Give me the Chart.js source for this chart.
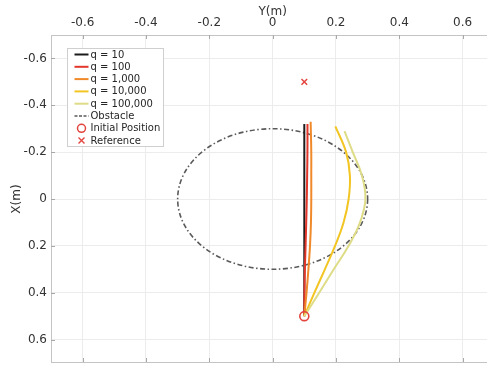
<!DOCTYPE html>
<html><head><meta charset="utf-8">
<script src="https://cdn.jsdelivr.net/npm/chart.js@4.4.0/dist/chart.umd.min.js"></script>
<style>
html,body{margin:0;padding:0;background:#fff;overflow:hidden;width:487px;height:365px}
#wrap{width:487px;height:365px;position:relative}
</style>
</head><body>
<div id="wrap"><canvas id="c" width="487" height="365"></canvas></div>
<script>
// Axis tick values (horizontal axis = Y(m), vertical axis = X(m), reversed)
const tickValues = [-0.6, -0.4, -0.2, 0, 0.2, 0.4, 0.6];
const xAxisMin = -0.7, xAxisMax = 0.677;   // right side of the plot is cut by the picture edge
const yAxisMin = -0.7, yAxisMax = 0.7;
const xAxisTitle = 'Y(m)';
const yAxisTitle = 'X(m)';

// Series labels
const seriesLabels = ['q = 10', 'q = 100', 'q = 1,000', 'q = 10,000', 'q = 100,000'];

// Trajectories: horizontal coordinate Y(m) and vertical coordinate X(m)
const q10Y     = [0.100, 0.100];
const q10X     = [0.50, -0.32];
const q100Y    = [0.100, 0.101, 0.104, 0.107, 0.109, 0.110, 0.110];
const q100X    = [0.50, 0.35, 0.20, 0.05, -0.10, -0.22, -0.32];
const q1000Y   = [0.100, 0.107, 0.113, 0.118, 0.121, 0.122, 0.122, 0.122, 0.120];
const q1000X   = [0.50, 0.40, 0.30, 0.20, 0.10, 0.00, -0.10, -0.20, -0.33];
const q10000Y  = [0.100, 0.132, 0.165, 0.197, 0.224, 0.240, 0.244, 0.232, 0.198];
const q10000X  = [0.50, 0.40, 0.30, 0.20, 0.10, 0.00, -0.10, -0.20, -0.31];
const q100000Y = [0.100, 0.147, 0.193, 0.240, 0.276, 0.293, 0.282, 0.253, 0.227];
const q100000X = [0.50, 0.40, 0.30, 0.20, 0.10, 0.00, -0.10, -0.20, -0.29];

// Obstacle (circle) and markers
const obstacleCenter = [0, 0];
const obstacleRadius = 0.3;
const initialPosition = [0.1, 0.5];
const referencePoint = [0.1, -0.5];

const seriesColors = ['#1b1b1b', '#e2372a', '#f0892a', '#f2c523', '#dedc86'];
const markerColor = '#e3443e';
const obstacleColor = '#5a5a5a';

function pts(ys, xs) { return ys.map((v, i) => ({x: v, y: xs[i]})); }
const traj = [pts(q10Y, q10X), pts(q100Y, q100X), pts(q1000Y, q1000X), pts(q10000Y, q10000X), pts(q100000Y, q100000X)];
const orders = [6, 5, 4, 3, 2];

const datasets = traj.map((d, i) => ({
  label: seriesLabels[i], data: d, showLine: true, borderColor: seriesColors[i],
  borderWidth: 2, pointRadius: 0, tension: 0.4, fill: false, order: orders[i]
}));
datasets.push({label: 'Initial Position', data: [{x: initialPosition[0], y: initialPosition[1]}],
  pointStyle: 'circle', pointRadius: 4.5, borderColor: markerColor, backgroundColor: 'rgba(0,0,0,0)',
  borderWidth: 1.6, showLine: false, order: 0});
datasets.push({label: 'Reference', data: [{x: referencePoint[0], y: referencePoint[1]}],
  pointStyle: 'crossRot', pointRadius: 4, borderColor: markerColor, backgroundColor: markerColor,
  borderWidth: 1.5, showLine: false, order: 0});

const FONT = 'DejaVu Sans';

const obstaclePlugin = {
  id: 'obstacle',
  beforeDatasetsDraw(chart) {
    const {ctx, scales: {x, y}} = chart;
    const cx = x.getPixelForValue(obstacleCenter[0]);
    const cy = y.getPixelForValue(obstacleCenter[1]);
    const rx = Math.abs(x.getPixelForValue(obstacleCenter[0] + obstacleRadius) - cx);
    const ry = Math.abs(y.getPixelForValue(obstacleCenter[1] + obstacleRadius) - cy);
    ctx.save();
    ctx.strokeStyle = obstacleColor;
    ctx.lineWidth = 1.6;
    ctx.setLineDash([5, 2.5, 1.5, 2.5]);
    ctx.beginPath();
    ctx.ellipse(cx, cy, rx, ry, 0, 0, Math.PI * 2);
    ctx.stroke();
    ctx.restore();
  }
};

const framePlugin = {
  id: 'frame',
  afterDatasetsDraw(chart) {
    const {ctx, chartArea: a, scales: {x, y}} = chart;
    ctx.save();
    ctx.strokeStyle = '#c4c4c4';
    ctx.lineWidth = 1;
    ctx.strokeRect(Math.round(a.left) + 0.5, Math.round(a.top) + 0.5, Math.round(a.right - a.left) + 2, Math.round(a.bottom - a.top) - 1);
    ctx.strokeStyle = '#a8a8a8';
    ctx.beginPath();
    tickValues.forEach(v => {
      const px = Math.round(x.getPixelForValue(v)) + 0.5;
      ctx.moveTo(px, a.top); ctx.lineTo(px, a.top + 4);
      ctx.moveTo(px, a.bottom - 1); ctx.lineTo(px, a.bottom - 5);
      const py = Math.round(y.getPixelForValue(v)) + 0.5;
      ctx.moveTo(a.left, py); ctx.lineTo(a.left + 4, py);
    });
    ctx.stroke();
    // axis title for the top axis, centred on Y = 0
    ctx.fillStyle = '#333';
    ctx.font = '12px "' + FONT + '"';
    ctx.textAlign = 'center';
    ctx.textBaseline = 'middle';
    ctx.fillText(xAxisTitle, x.getPixelForValue(0), 11.5);
    ctx.restore();
  }
};

const legendItems = [
  {text: seriesLabels[0], kind: 'line', color: seriesColors[0]},
  {text: seriesLabels[1], kind: 'line', color: seriesColors[1]},
  {text: seriesLabels[2], kind: 'line', color: seriesColors[2]},
  {text: seriesLabels[3], kind: 'line', color: seriesColors[3]},
  {text: seriesLabels[4], kind: 'line', color: seriesColors[4]},
  {text: 'Obstacle', kind: 'dash', color: obstacleColor},
  {text: 'Initial Position', kind: 'circle', color: markerColor},
  {text: 'Reference', kind: 'cross', color: markerColor}
];

const legendPlugin = {
  id: 'insideLegend',
  afterDraw(chart) {
    const {ctx, chartArea: a} = chart;
    const bx = Math.round(a.left) + 16.5, by = Math.round(a.top) + 13.5;
    const bw = 96, bh = 98, rowH = 12.3;
    ctx.save();
    ctx.fillStyle = '#fff';
    ctx.fillRect(bx, by, bw, bh);
    ctx.strokeStyle = '#cfcfcf';
    ctx.lineWidth = 1;
    ctx.strokeRect(bx, by, bw, bh);
    ctx.font = '10px "' + FONT + '"';
    ctx.textBaseline = 'middle';
    ctx.textAlign = 'left';
    legendItems.forEach((it, i) => {
      const cy = by + 6 + rowH * i;
      const x0 = bx + 7, x1 = bx + 21;
      ctx.strokeStyle = it.color;
      if (it.kind === 'line') {
        ctx.lineWidth = 2; ctx.setLineDash([]);
        ctx.beginPath(); ctx.moveTo(x0, cy); ctx.lineTo(x1, cy); ctx.stroke();
      } else if (it.kind === 'dash') {
        ctx.lineWidth = 1.5; ctx.setLineDash([3, 1.5]);
        ctx.beginPath(); ctx.moveTo(x0, cy); ctx.lineTo(x1, cy); ctx.stroke();
        ctx.setLineDash([]);
      } else if (it.kind === 'circle') {
        ctx.lineWidth = 1.5;
        ctx.beginPath(); ctx.arc((x0 + x1) / 2, cy, 4, 0, Math.PI * 2); ctx.stroke();
      } else {
        ctx.lineWidth = 1.4;
        const c = (x0 + x1) / 2, r = 3;
        ctx.beginPath();
        ctx.moveTo(c - r, cy - r); ctx.lineTo(c + r, cy + r);
        ctx.moveTo(c + r, cy - r); ctx.lineTo(c - r, cy + r);
        ctx.stroke();
      }
      ctx.fillStyle = '#262626';
      ctx.fillText(it.text, x1 + 2, cy + 0.5);
    });
    ctx.restore();
  }
};

function setTicks(scale) { scale.ticks = tickValues.map(v => ({value: v})); }
function noPad(s) { s.paddingTop = 0; s.paddingBottom = 0; s.paddingLeft = 0; s.paddingRight = 0; }

new Chart(document.getElementById('c'), {
  type: 'scatter',
  data: {datasets},
  options: {
    responsive: false,
    animation: false,
    layout: {autoPadding: false, padding: {right: 0, bottom: 2, top: 0, left: 0}},
    plugins: {legend: {display: false}, tooltip: {enabled: false}},
    scales: {
      x: {
        type: 'linear', position: 'top', min: xAxisMin, max: xAxisMax,
        afterBuildTicks: setTicks,
        afterFit(s) { s.height = 35; noPad(s); },
        grid: {color: '#ececec', lineWidth: 1, drawTicks: false},
        border: {display: false},
        ticks: {font: {family: FONT, size: 12}, color: '#333', padding: 5,
          callback: v => String(Math.round(v * 10) / 10)},
        title: {display: false, text: xAxisTitle}
      },
      y: {
        type: 'linear', reverse: true, min: yAxisMin, max: yAxisMax,
        afterBuildTicks: setTicks,
        afterFit(s) { s.width = 51; noPad(s); },
        grid: {color: '#ececec', lineWidth: 1, drawTicks: false},
        border: {display: false},
        ticks: {font: {family: FONT, size: 12}, color: '#333', padding: 4,
          callback: v => String(Math.round(v * 10) / 10)},
        title: {display: true, text: yAxisTitle, font: {family: FONT, size: 12}, color: '#333', padding: {top: 10, bottom: 0}}
      }
    }
  },
  plugins: [obstaclePlugin, framePlugin, legendPlugin]
});
</script>
</body></html>
